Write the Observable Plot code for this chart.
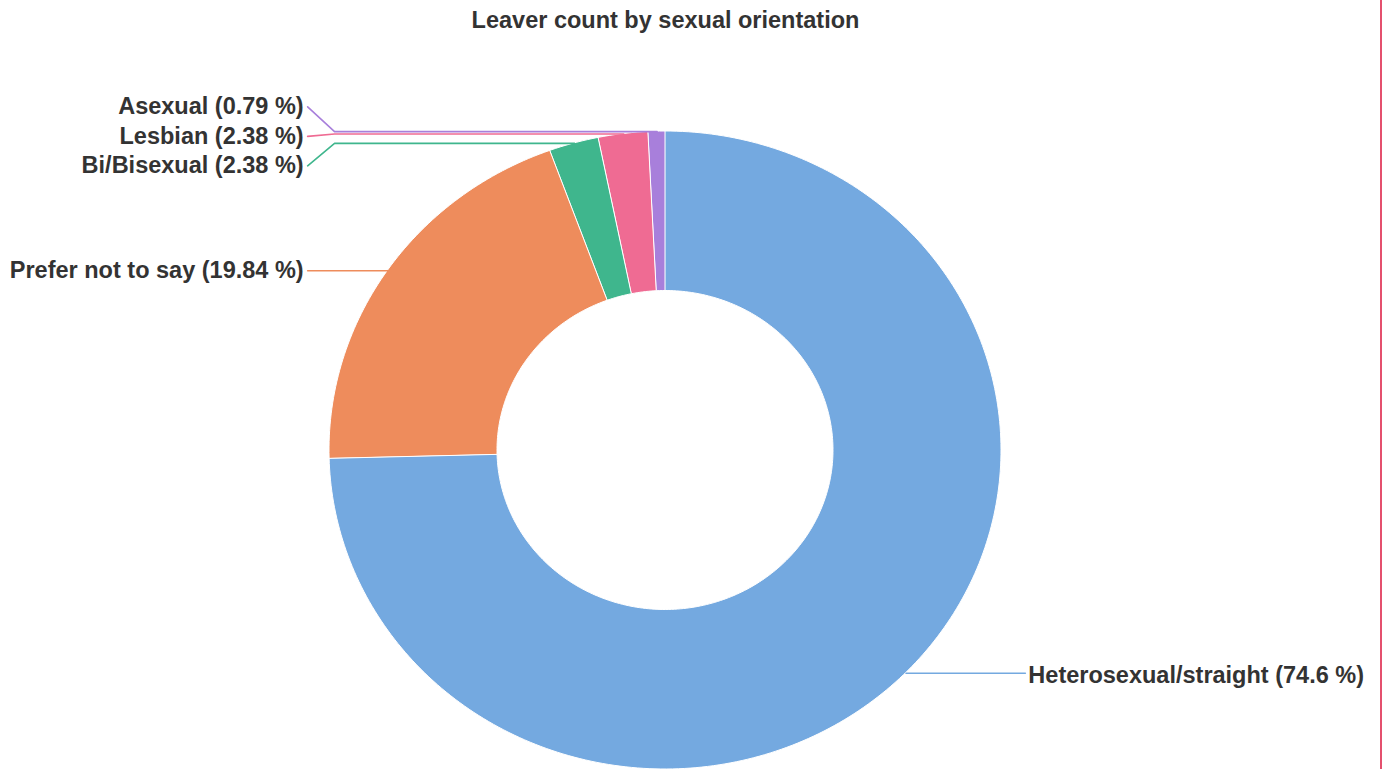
<!DOCTYPE html>
<html>
<head>
<meta charset="utf-8">
<script src="https://cdn.jsdelivr.net/npm/d3@7"></script>
<script src="https://cdn.jsdelivr.net/npm/@observablehq/plot@0.6"></script>
<style>
  html, body { margin: 0; padding: 0; background: #ffffff; }
  #chart svg { display: block; border-right: 2px solid #e4506e; }
</style>
</head>
<body>
<div id="chart"></div>
<script>
const title = "Leaver count by sexual orientation";
const categories = ["Heterosexual/straight", "Prefer not to say", "Bi/Bisexual", "Lesbian", "Asexual"];
const counts = [94, 25, 3, 3, 1];
const colors = ["#74a9e0", "#ee8c5c", "#3fb68d", "#ef6b93", "#a87fdb"];

const total = d3.sum(counts);
const innerR = 0.5, outerR = 1;

// slice polygons (angles clockwise from top)
const rows = [];
const slices = [];
let cum = 0;
categories.forEach((key, i) => {
  const a0 = cum / total * 2 * Math.PI;
  cum += counts[i];
  const a1 = cum / total * 2 * Math.PI;
  const n = Math.max(2, Math.ceil((a1 - a0) / (Math.PI / 180)));
  for (let k = 0; k <= n; k++) {
    const a = a0 + (a1 - a0) * k / n;
    rows.push({key, xi: innerR * Math.sin(a), yi: innerR * Math.cos(a), xo: outerR * Math.sin(a), yo: outerR * Math.cos(a)});
  }
  const mid = (a0 + a1) / 2;
  const pct = +(counts[i] / total * 100).toFixed(2);
  slices.push({key, mid, ax: outerR * Math.sin(mid), ay: outerR * Math.cos(mid), label: `${key} (${pct} %)`, side: Math.sin(mid) < 0 ? "left" : "right"});
});

// label layout: spread overlapping labels on each side
const gap = 0.0925;
for (const side of ["left", "right"]) {
  const s = slices.filter(d => d.side === side).sort((a, b) => b.ay - a.ay);
  let clusters = [];
  for (const d of s) {
    const last = clusters[clusters.length - 1];
    if (last && last[last.length - 1].ay - d.ay < gap) last.push(d); else clusters.push([d]);
  }
  for (const c of clusters) {
    const m = d3.mean(c, d => d.ay);
    c.forEach((d, j) => { d.ly = m + ((c.length - 1) / 2 - j) * gap; });
  }
}
const leftEnd = -1.065, leftKnee = -0.985, rightEnd = 1.071;
const leaders = [];
for (const d of slices) {
  if (d.side === "left") {
    d.lx = leftEnd;
    leaders.push({key: d.key, x: d.ax, y: d.ay}, {key: d.key, x: leftKnee, y: d.ay}, {key: d.key, x: leftEnd, y: d.ly});
  } else {
    d.lx = rightEnd;
    leaders.push({key: d.key, x: d.ax, y: d.ay}, {key: d.key, x: rightEnd, y: d.ly});
  }
}

const font = "'Liberation Sans', Arial, Helvetica, sans-serif";
const fs = 23.5;
const chart = Plot.plot({
  width: 1380,
  height: 769,
  margin: 0,
  style: {background: "#ffffff", fontFamily: font},
  x: {domain: [-1, 1], range: [329, 1001], axis: null},
  y: {domain: [-1, 1], range: [769, 131], axis: null},
  color: {domain: categories, range: colors},
  marks: [
    Plot.area(rows, {x1: "xi", y1: "yi", x2: "xo", y2: "yo", z: "key", fill: "key", stroke: "#ffffff", strokeWidth: 1}),
    Plot.line(leaders, {x: "x", y: "y", z: "key", stroke: "key", strokeWidth: 1.6}),
    Plot.text(slices.filter(d => d.side === "left"), {x: "lx", y: "ly", text: "label", textAnchor: "end", dx: -4, fontSize: fs, fontWeight: "bold", fill: "#333333"}),
    Plot.text(slices.filter(d => d.side === "right"), {x: "lx", y: "ly", text: "label", textAnchor: "start", dx: 3, dy: 2, fontSize: fs, fontWeight: "bold", fill: "#333333"}),
    Plot.text([title], {x: () => 0, text: d => d, frameAnchor: "top", dy: 11, fontSize: fs, fontWeight: "bold", fill: "#333333"})
  ]
});
document.getElementById("chart").appendChild(chart);
</script>
</body>
</html>
